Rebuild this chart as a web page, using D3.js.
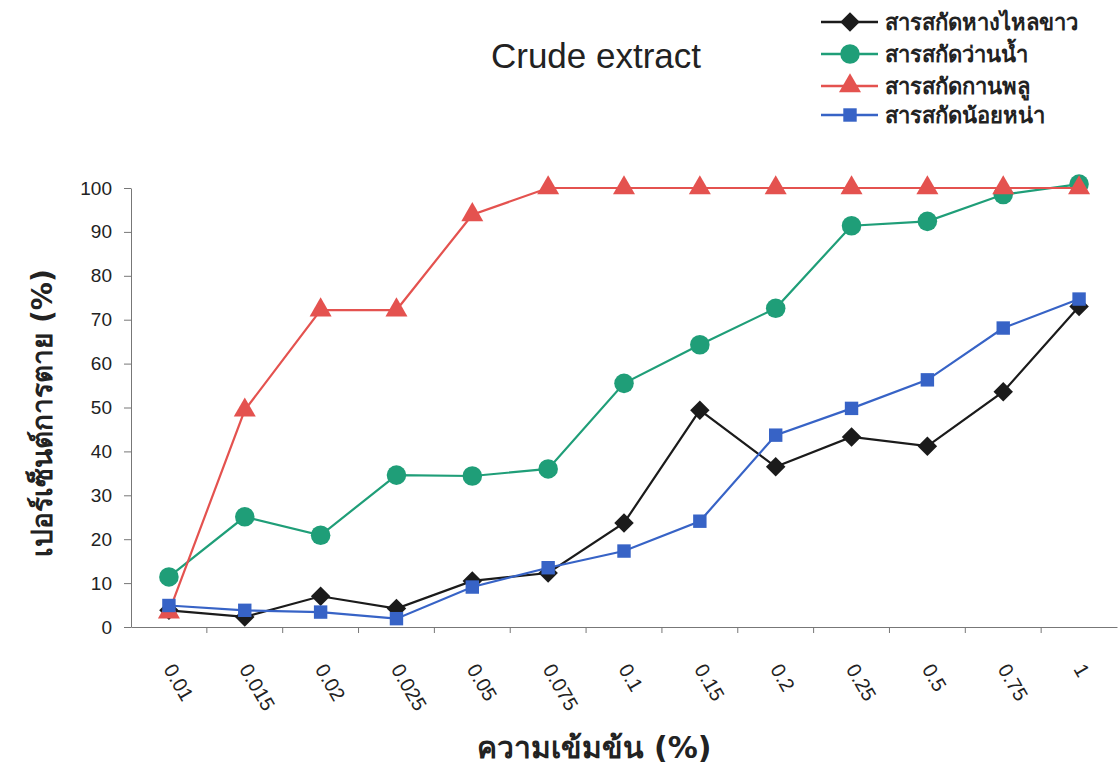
<!DOCTYPE html>
<html><head><meta charset="utf-8">
<script src="https://cdn.jsdelivr.net/npm/d3@7"></script>
<style>body{margin:0;background:#fff}svg{display:block}</style>
</head><body>
<svg id="c" width="1118" height="767"></svg>
<script>
const categories = ["0.01","0.015","0.02","0.025","0.05","0.075","0.1","0.15","0.2","0.25","0.5","0.75","1"];
const seriesNames = ["สารสกัดหางไหลขาว","สารสกัดว่านน้ำ","สารสกัดกานพลู","สารสกัดน้อยหน่า"];
const haangLaiKhao = [3.8,2.3,7.0,4.2,10.5,12.3,23.7,49.4,36.5,43.3,41.2,53.6,73.0];
const waanNam = [11.4,25.1,20.9,34.6,34.4,36.0,55.5,64.3,72.6,91.4,92.4,98.5,100.9];
const kaanPhlu = [3.4,49.4,72.2,72.2,93.9,100,100,100,100,100,100,100,100];
const noiNa = [4.9,3.8,3.4,1.9,9.1,13.5,17.3,24.1,43.7,49.8,56.3,68.1,74.7];
const yTicks = [0,10,20,30,40,50,60,70,80,90,100];

(function(){
const colors = ["#1b1b1b","#1f9e78","#e4524f","#3763c6"];
const symbols = [d3.symbolSquare, d3.symbolCircle, d3.symbolTriangle, d3.symbolSquare];
const symRot = [45, 0, 0, 0];
const symSizes = [190, 300, 210, 180];
const data = [haangLaiKhao, waanNam, kaanPhlu, noiNa];

const svg = d3.select("#c");
const mL = 131, mR = 1117, mT = 188, mB = 627;
const x = d3.scaleBand().domain(categories).range([mL, mR]);
const y = d3.scaleLinear().domain([0,100]).range([mB, mT]);

svg.append("text").attr("x",596).attr("y",68).attr("text-anchor","middle")
  .attr("font-family","Arial, Liberation Sans, sans-serif").attr("font-size",35).attr("fill","#222")
  .text("Crude extract");

const yAxis = svg.append("g").attr("transform",`translate(${mL},0)`)
  .call(d3.axisLeft(y).tickValues(yTicks).tickSize(7).tickSizeOuter(0).tickPadding(12));
yAxis.select(".domain").attr("stroke","#777");
yAxis.selectAll(".tick line").attr("stroke","#777");
yAxis.selectAll("text").attr("font-family","Arial, Liberation Sans, sans-serif").attr("font-size",19).attr("fill","#222");

const xAxis = svg.append("g").attr("transform",`translate(0,${mB})`)
  .call(d3.axisBottom(x).tickSize(0).tickSizeOuter(0));
xAxis.select(".domain").attr("stroke","#777");
xAxis.selectAll("text")
  .attr("font-family","Arial, Liberation Sans, sans-serif").attr("font-size",20).attr("fill","#222")
  .attr("text-anchor","start").attr("dy",0)
  .attr("transform","translate(-6,42) rotate(60)")
  .attr("y",0).attr("x",0);
xAxis.selectAll("line.bt").data(categories.slice(1)).enter().append("line")
  .attr("class","bt")
  .attr("x1",d=>x(d)).attr("x2",d=>x(d)).attr("y1",0).attr("y2",6).attr("stroke","#777");

svg.append("text").attr("transform","translate(52,413) rotate(-90)").attr("text-anchor","middle")
  .attr("font-family","Tahoma, DejaVu Sans, sans-serif").attr("font-size",28).attr("font-weight","bold").attr("fill","#222")
  .text("เปอร์เซ็นต์การตาย (%)");
svg.append("text").attr("x",594).attr("y",758).attr("text-anchor","middle")
  .attr("font-family","Tahoma, DejaVu Sans, sans-serif").attr("font-size",30).attr("font-weight","bold").attr("fill","#222")
  .text("ความเข้มข้น (%)");

const cx = d => x(d) + x.bandwidth()/2;
const line = d3.line().x((d,i)=>cx(categories[i])).y(d=>y(d));

data.forEach((vals,k)=>{
  const g = svg.append("g");
  g.append("path").datum(vals).attr("d",line).attr("fill","none").attr("stroke",colors[k]).attr("stroke-width",2.2);
  g.selectAll("path.m").data(vals).enter().append("path").attr("class","m")
    .attr("transform",(d,i)=>`translate(${cx(categories[i])},${y(d)}) rotate(${symRot[k]})`)
    .attr("d",d3.symbol().type(symbols[k]).size(symSizes[k])).attr("fill",colors[k]);
});

const legY = [22,54,86,115];
seriesNames.forEach((n,k)=>{
  const g = svg.append("g").attr("transform",`translate(0,${legY[k]})`);
  g.append("line").attr("x1",821).attr("x2",878).attr("y1",0).attr("y2",0).attr("stroke",colors[k]).attr("stroke-width",2.5);
  g.append("path").attr("transform",`translate(850,0) rotate(${symRot[k]})`).attr("d",d3.symbol().type(symbols[k]).size(symSizes[k])).attr("fill",colors[k]);
  g.append("text").attr("x",885).attr("y",8).attr("font-family","Tahoma, DejaVu Sans, sans-serif")
    .attr("font-size",22).attr("font-weight","bold").attr("fill","#222").text(n);
});
})();
</script>
</body></html>
